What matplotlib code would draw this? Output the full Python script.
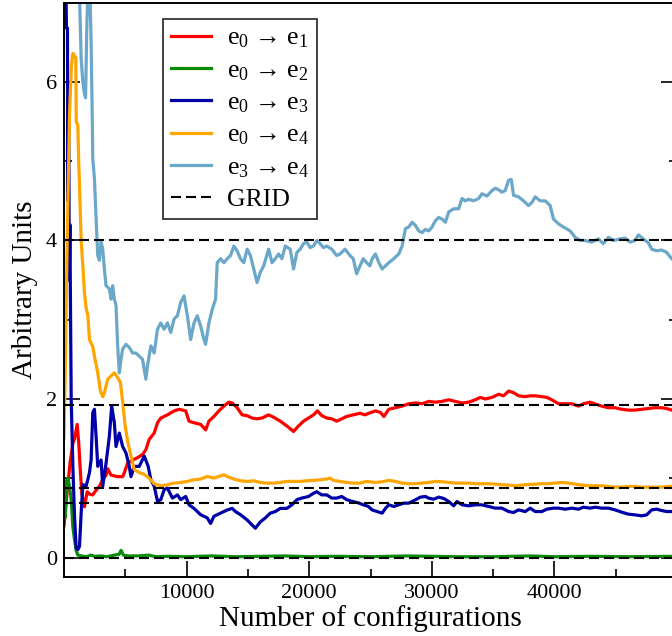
import matplotlib
matplotlib.use("Agg")
import matplotlib.pyplot as plt
from matplotlib.ticker import FixedLocator, NullFormatter

plt.rcParams['font.family'] = ['Liberation Serif', 'DejaVu Serif']
plt.rcParams['mathtext.fontset'] = 'custom'
plt.rcParams['mathtext.rm'] = 'Liberation Serif'
plt.rcParams['mathtext.it'] = 'Liberation Serif:italic'

labels = ['e$_0$ → e$_1$', 'e$_0$ → e$_2$', 'e$_0$ → e$_3$', 'e$_0$ → e$_4$', 'e$_3$ → e$_4$']
colors = ['#ff0000', '#0a8a0a', '#0000a8', '#ffa500', '#6aa7c9']
grid_values = [4.0, 1.923, 0.873, 0.691, 0.0]
x_tick_values = [10000, 20000, 30000, 40000]

# (configurations, value)
e01 = [(0, 0.40), (100, 0.55), (300, 0.90), (500, 1.20), (723, 1.44), (858, 1.50), (1075, 1.68),
       (1200, 1.45), (1345, 1.06), (1454, 0.81), (1670, 0.64), (1887, 0.83), (2076, 0.80), (2347, 0.79),
       (2618, 0.85), (2888, 0.90), (3159, 0.98), (3430, 1.04), (3565, 1.12), (3836, 1.04), (4377, 1.02),
       (4783, 1.02), (4919, 1.07), (5189, 1.19), (5595, 1.23), (6001, 1.26), (6407, 1.30), (6678, 1.36),
       (6949, 1.49), (7355, 1.57), (7626, 1.70), (7896, 1.76), (8438, 1.80), (8979, 1.85), (9385, 1.87),
       (9656, 1.86), (9927, 1.85), (10197, 1.72), (10603, 1.70), (11145, 1.68), (11551, 1.61),
       (11821, 1.72), (12227, 1.78), (12633, 1.85), (13039, 1.91), (13446, 1.96), (13717, 1.95),
       (14123, 1.89), (14529, 1.80), (14935, 1.79), (15341, 1.76), (15747, 1.75), (16153, 1.76),
       (16694, 1.80), (17100, 1.77), (17642, 1.72), (18183, 1.66), (18724, 1.59), (19130, 1.66),
       (19536, 1.72), (19942, 1.76), (20349, 1.80), (20674, 1.85), (21025, 1.79), (21432, 1.76),
       (21838, 1.75), (22244, 1.72), (22650, 1.75), (23056, 1.78), (23597, 1.80), (24139, 1.82),
       (24545, 1.80), (24864, 1.82), (25407, 1.85), (25814, 1.83), (26086, 1.78), (26493, 1.87),
       (27036, 1.89), (27578, 1.91), (28121, 1.94), (28664, 1.95), (29207, 1.94), (29750, 1.97),
       (30292, 1.96), (30835, 1.97), (31378, 1.99), (31921, 1.97), (32464, 1.95), (33006, 1.96),
       (33549, 1.99), (33956, 2.02), (34363, 2.00), (34906, 2.02), (35449, 2.06), (35856, 2.04),
       (36263, 2.10), (36670, 2.08), (37077, 2.04), (37620, 2.03), (38027, 2.04), (38434, 2.04),
       (38977, 2.03), (39384, 2.02), (39791, 1.99), (40334, 1.94), (40877, 1.94), (41420, 1.94),
       (41963, 1.91), (42370, 1.94), (42912, 1.96), (43455, 1.93), (43862, 1.91), (44405, 1.89),
       (44948, 1.89), (45491, 1.87), (46034, 1.86), (46577, 1.86), (47119, 1.87), (47662, 1.88),
       (48205, 1.89), (48748, 1.89), (49155, 1.88), (49562, 1.86), (50000, 1.86)]

e02 = [(0, 0.90), (80, 0.50), (150, 0.95), (300, 1.00), (450, 0.90), (590, 0.73), (720, 0.39),
       (860, 0.22), (990, 0.09), (1130, 0.03), (1400, 0.02), (1800, 0.01), (2200, 0.03), (2500, 0.015),
       (3000, 0.02), (3500, 0.01), (4100, 0.03), (4500, 0.04), (4650, 0.09), (4850, 0.03), (5200, 0.02),
       (6000, 0.02), (6900, 0.03), (7500, 0.01), (8500, 0.015), (10000, 0.01), (12000, 0.02),
       (14000, 0.01), (16000, 0.015), (18000, 0.02), (20000, 0.01), (22000, 0.015), (25000, 0.01),
       (28000, 0.02), (30000, 0.015), (32000, 0.01), (35000, 0.01), (38000, 0.02), (40000, 0.01),
       (43000, 0.015), (46000, 0.01), (50000, 0.015)]

e03 = [(0, 7.3), (150, 7.3), (200, 6.68), (280, 6.68), (330, 4.5), (380, 6.0), (430, 3.5), (480, 4.2),
       (540, 2.9), (587, 2.0), (723, 1.15), (858, 0.52), (993, 0.12), (1130, 0.10), (1264, 0.14),
       (1400, 0.56), (1535, 0.92), (1806, 0.90), (2076, 1.07), (2211, 1.23), (2347, 1.83), (2482, 1.87),
       (2618, 1.53), (2753, 1.15), (3024, 1.23), (3159, 0.90), (3430, 1.19), (3700, 1.53), (3890, 1.91),
       (4106, 1.70), (4242, 1.40), (4512, 1.57), (4783, 1.40), (5054, 1.32), (5325, 1.15), (5460, 1.02),
       (5730, 1.15), (6136, 1.15), (6543, 1.28), (6868, 1.15), (7084, 0.98), (7355, 0.90), (7626, 0.71),
       (7896, 0.73), (8167, 0.855), (8438, 0.876), (8844, 0.75), (9250, 0.79), (9520, 0.73),
       (9927, 0.77), (10197, 0.665), (10603, 0.62), (11145, 0.54), (11686, 0.50), (11957, 0.43),
       (12227, 0.52), (12768, 0.56), (13310, 0.60), (13717, 0.62), (13986, 0.58), (14393, 0.54),
       (14935, 0.475), (15341, 0.41), (15611, 0.37), (16017, 0.45), (16423, 0.50), (16829, 0.56),
       (17235, 0.58), (17642, 0.62), (18183, 0.62), (18589, 0.665), (18995, 0.73), (19401, 0.75),
       (19942, 0.77), (20349, 0.81), (20620, 0.83), (21025, 0.79), (21432, 0.79), (21838, 0.75),
       (22244, 0.75), (22650, 0.77), (23056, 0.73), (23462, 0.71), (24004, 0.69), (24410, 0.665),
       (24816, 0.645), (25136, 0.60), (25543, 0.58), (25950, 0.56), (26221, 0.62), (26493, 0.665),
       (26900, 0.644), (27307, 0.665), (27714, 0.686), (28121, 0.686), (28664, 0.728), (29071, 0.762),
       (29478, 0.77), (29750, 0.749), (30157, 0.736), (30564, 0.762), (30971, 0.745), (31378, 0.707),
       (31785, 0.652), (32056, 0.707), (32464, 0.665), (33006, 0.652), (33549, 0.665), (34092, 0.665),
       (34635, 0.644), (35178, 0.623), (35720, 0.623), (36263, 0.58), (36670, 0.568), (37077, 0.601),
       (37620, 0.58), (38027, 0.623), (38434, 0.58), (38977, 0.58), (39384, 0.61), (39927, 0.623),
       (40334, 0.623), (40877, 0.61), (41420, 0.623), (41963, 0.61), (42370, 0.635), (42912, 0.623),
       (43320, 0.635), (43862, 0.623), (44405, 0.623), (44948, 0.601), (45491, 0.572), (46034, 0.547),
       (46577, 0.538), (47119, 0.526), (47526, 0.538), (47934, 0.601), (48341, 0.61), (48748, 0.593),
       (49155, 0.58), (49562, 0.58), (50000, 0.58)]

e04 = [(0, 1.5), (120, 2.5), (200, 3.4), (320, 4.5), (450, 5.6), (600, 6.2), (720, 6.36), (860, 6.33),
       (960, 6.3), (1000, 5.5), (1130, 5.45), (1200, 5.0), (1264, 4.69), (1400, 4.0), (1535, 3.68),
       (1670, 3.34), (1800, 3.15), (1950, 3.05), (2076, 2.75), (2347, 2.66), (2482, 2.54), (2753, 2.33),
       (2970, 2.10), (3159, 2.03), (3294, 2.08), (3565, 2.25), (3836, 2.29), (4106, 2.33), (4377, 2.27),
       (4594, 2.21), (4783, 1.97), (4973, 1.68), (5189, 1.47), (5460, 1.28), (5730, 1.11), (6136, 1.07),
       (6543, 1.05), (6949, 1.00), (7355, 0.93), (7896, 0.905), (8438, 0.918), (8979, 0.939),
       (9520, 0.947), (10062, 0.96), (10603, 0.981), (11145, 0.99), (11686, 1.023), (12227, 1.002),
       (12633, 1.023), (13039, 1.044), (13310, 1.023), (13851, 0.99), (14393, 0.968), (14935, 0.96),
       (15476, 0.968), (16017, 0.947), (16559, 0.939), (17100, 0.939), (17642, 0.947), (18183, 0.96),
       (18724, 0.96), (19266, 0.96), (19807, 0.968), (20349, 0.973), (20890, 0.981), (21432, 0.99),
       (21703, 1.002), (21973, 0.973), (22515, 0.96), (23056, 0.947), (23597, 0.939), (24139, 0.939),
       (24680, 0.96), (25407, 0.947), (25950, 0.956), (26493, 0.973), (27036, 0.96), (27578, 0.939),
       (28121, 0.931), (28664, 0.931), (29207, 0.939), (29750, 0.947), (30292, 0.96), (30835, 0.956),
       (31378, 0.947), (31921, 0.939), (32464, 0.939), (33006, 0.939), (33549, 0.931), (34092, 0.931),
       (34635, 0.931), (35178, 0.926), (35720, 0.918), (36263, 0.914), (36806, 0.905), (37349, 0.914),
       (37892, 0.922), (38434, 0.926), (38977, 0.931), (39520, 0.931), (40063, 0.939), (40606, 0.947),
       (41148, 0.939), (41691, 0.926), (42234, 0.914), (42777, 0.905), (43320, 0.905), (43862, 0.905),
       (44405, 0.897), (44948, 0.888), (45491, 0.888), (46034, 0.897), (46577, 0.897), (47119, 0.888),
       (47662, 0.888), (48205, 0.888), (48748, 0.888), (49291, 0.897), (50000, 0.897)]

e34 = [(0, 14.0), (500, 11.0), (1000, 8.5), (1264, 7.1), (1400, 6.3), (1535, 6.0), (1670, 5.85),
       (1760, 5.8), (1850, 6.6), (1950, 7.2), (2076, 7.4), (2211, 6.5), (2300, 5.6), (2347, 5.03),
       (2482, 4.78), (2618, 4.27), (2753, 3.81), (2888, 3.75), (3024, 3.98), (3159, 3.89), (3294, 3.64),
       (3430, 3.43), (3700, 3.39), (3836, 3.26), (3971, 3.43), (4106, 3.26), (4242, 3.18), (4377, 2.67),
       (4513, 2.33), (4648, 2.50), (4783, 2.63), (5054, 2.69), (5325, 2.65), (5595, 2.58), (5866, 2.58),
       (6136, 2.54), (6407, 2.50), (6678, 2.25), (6814, 2.42), (7084, 2.67), (7355, 2.58), (7626, 2.88),
       (7896, 2.96), (8167, 2.88), (8438, 2.96), (8709, 2.84), (8979, 3.01), (9250, 3.05), (9520, 3.22),
       (9791, 3.30), (10062, 3.05), (10333, 2.75), (10603, 2.96), (10874, 3.05), (11145, 2.92),
       (11415, 2.75), (11551, 2.69), (11821, 2.96), (12092, 3.13), (12363, 3.26), (12498, 3.72),
       (12768, 3.77), (13039, 3.72), (13310, 3.77), (13580, 3.81), (13851, 3.93), (14122, 3.87),
       (14393, 3.77), (14664, 3.72), (14935, 3.89), (15205, 3.81), (15476, 3.64), (15747, 3.47),
       (16017, 3.60), (16288, 3.68), (16694, 3.89), (16965, 3.72), (17235, 3.77), (17506, 3.83),
       (17777, 3.77), (18048, 3.93), (18454, 3.89), (18724, 3.64), (18995, 3.85), (19266, 3.89),
       (19536, 3.96), (19807, 3.98), (20078, 3.91), (20349, 3.93), (20620, 4.00), (20890, 3.96),
       (21161, 3.91), (21432, 3.93), (21838, 3.89), (22244, 3.81), (22515, 3.83), (22921, 3.89),
       (23327, 3.81), (23597, 3.77), (23868, 3.58), (24139, 3.68), (24410, 3.77), (24680, 3.72),
       (24951, 3.68), (25136, 3.77), (25407, 3.83), (25679, 3.72), (25950, 3.64), (26221, 3.68),
       (26493, 3.72), (26900, 3.77), (27307, 3.83), (27578, 3.93), (27850, 4.15), (28121, 4.17),
       (28393, 4.23), (28664, 4.19), (28935, 4.12), (29207, 4.10), (29478, 4.14), (29750, 4.12),
       (30021, 4.17), (30292, 4.25), (30564, 4.29), (30835, 4.27), (31107, 4.23), (31378, 4.36),
       (31785, 4.40), (32192, 4.40), (32464, 4.53), (32735, 4.50), (33006, 4.52), (33413, 4.50),
       (33820, 4.53), (34092, 4.59), (34499, 4.56), (34906, 4.63), (35178, 4.66), (35449, 4.64),
       (35720, 4.61), (35992, 4.63), (36263, 4.76), (36480, 4.77), (36670, 4.57), (37077, 4.55),
       (37484, 4.50), (37892, 4.44), (38163, 4.48), (38434, 4.55), (38841, 4.50), (39248, 4.50),
       (39655, 4.44), (39927, 4.27), (40334, 4.21), (40741, 4.17), (41284, 4.12), (41691, 4.04),
       (42098, 4.00), (42505, 4.00), (43048, 3.98), (43591, 4.02), (43998, 3.96), (44405, 4.04),
       (44812, 4.00), (45355, 4.02), (45762, 4.03), (46169, 3.98), (46577, 4.00), (46848, 4.07),
       (47255, 4.02), (47662, 3.97), (47934, 3.89), (48341, 3.87), (48748, 3.88), (49155, 3.85),
       (49562, 3.77), (50000, 3.72)]

series = [e01, e02, e03, e04, e34]

fig = plt.figure(figsize=(6.72, 6.36), dpi=100)
ax = fig.add_axes([64 / 672, 1 - 576.7 / 636, 613 / 672, 574 / 636])

for pts, col, lab in zip(series, colors, labels):
    xs = [p[0] for p in pts]
    ys = [p[1] for p in pts]
    ax.plot(xs, ys, color=col, lw=2.3, label=lab, solid_joinstyle='round')

for i, g in enumerate(grid_values):
    ax.axhline(g, color='black', lw=1.5, dashes=(4.8, 2.4),
               label='GRID' if i == 0 else None)

ax.set_xlim(0, 50000)
ax.set_ylim(-0.242, 7.0)

ax.xaxis.set_major_locator(FixedLocator(x_tick_values))
ax.xaxis.set_minor_locator(FixedLocator([5000, 15000, 25000, 35000, 45000]))
ax.yaxis.set_major_locator(FixedLocator([0, 2, 4, 6]))
ax.yaxis.set_minor_locator(FixedLocator([1, 3, 5]))
ax.xaxis.set_minor_formatter(NullFormatter())
ax.yaxis.set_minor_formatter(NullFormatter())

ax.tick_params(which='both', direction='in', left=True, right=True, top=False, bottom=True,
               width=1.2, colors='black', labelsize=16)
ax.tick_params(which='major', length=11.5, pad=5)
ax.tick_params(which='minor', length=5.8)

for s in ax.spines.values():
    s.set_linewidth(1.4)
    s.set_color('black')

ax.set_xlabel('Number of configurations', fontsize=21, labelpad=2)
ax.set_ylabel('Arbitrary Units', fontsize=21, labelpad=6)

leg = ax.legend(loc='upper left', bbox_to_anchor=(0.1615, 0.9716), borderaxespad=0,
                fontsize=18.5, frameon=True, fancybox=False, edgecolor='black',
                handlelength=1.55, handletextpad=0.65, labelspacing=0.34, borderpad=0.3)
leg.get_frame().set_linewidth(1.3)

fig.savefig('out.png', dpi=100)
